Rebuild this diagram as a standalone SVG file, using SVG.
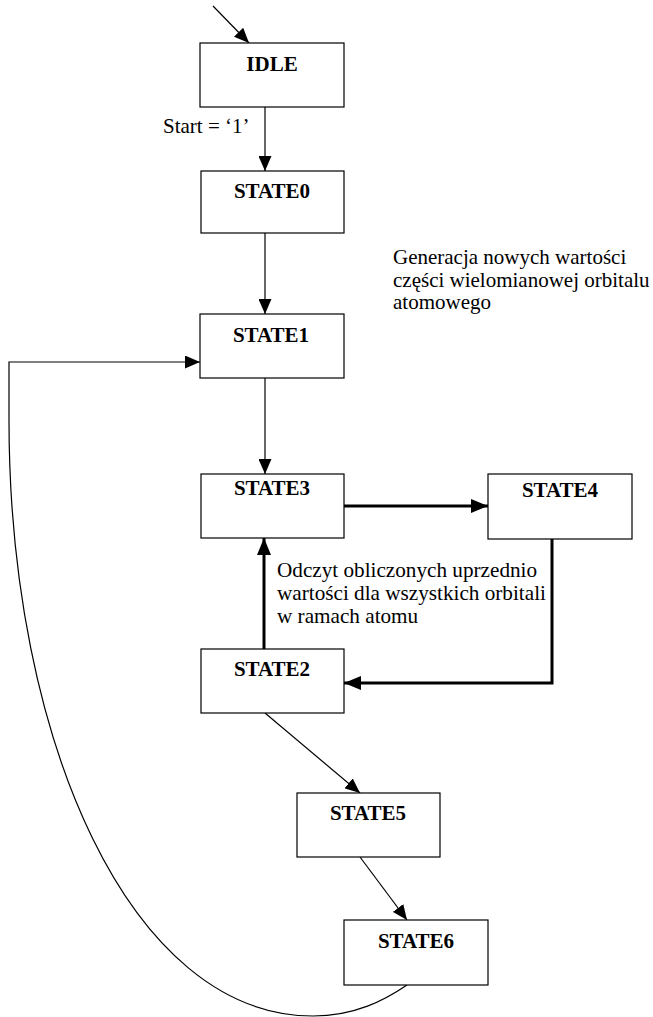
<svg xmlns="http://www.w3.org/2000/svg" width="653" height="1017" viewBox="0 0 653 1017">
<style>
.box{fill:#fff;stroke:#000;stroke-width:1.2}
.lbl{font-family:"Liberation Serif","Times New Roman",serif;font-weight:bold;font-size:21px;text-anchor:middle;fill:#000}
.txt{font-family:"Liberation Serif","Times New Roman",serif;font-size:21px;fill:#000}
.big{font-size:21.2px}
.thin{fill:none;stroke:#000;stroke-width:1.2}
.thick{fill:none;stroke:#000;stroke-width:3}
</style>
<defs>
<marker id="ah" markerUnits="userSpaceOnUse" markerWidth="15" markerHeight="13" refX="15" refY="6.5" orient="auto"><path d="M0,0 L15,6.5 L0,13 z" fill="#000"/></marker>
<marker id="ahb" markerUnits="userSpaceOnUse" markerWidth="17" markerHeight="14" refX="17" refY="7" orient="auto"><path d="M0,0 L17,7 L0,14 z" fill="#000"/></marker>
</defs>
<rect width="653" height="1017" fill="#fff"/>
<g id="connectors">
<line class="thin" x1="213" y1="6" x2="249" y2="43" marker-end="url(#ah)"/>
<line class="thin" x1="265" y1="107" x2="265" y2="171" marker-end="url(#ah)"/>
<line class="thin" x1="265" y1="233" x2="265" y2="314" marker-end="url(#ah)"/>
<line class="thin" x1="265" y1="378" x2="265" y2="474" marker-end="url(#ah)"/>
<line class="thick" x1="344" y1="506" x2="488" y2="506" marker-end="url(#ahb)"/>
<polyline class="thick" points="552,539 552,683 344,683" marker-end="url(#ahb)"/>
<line class="thick" x1="264" y1="649" x2="264" y2="538" marker-end="url(#ahb)"/>
<line class="thin" x1="265" y1="713" x2="360" y2="793" marker-end="url(#ah)"/>
<line class="thin" x1="360" y1="857" x2="407" y2="920" marker-end="url(#ah)"/>
<path class="thin" d="M407,985 C385,1000 355,1016 313,1016 C130,1016 9,740 9,420 L9,362 L200,362" marker-end="url(#ah)"/>
</g>
<g id="idle"><rect class="box" x="200" y="43" width="144" height="64"/><text class="lbl" x="272" y="71">IDLE</text></g>
<g id="state0"><rect class="box" x="201" y="171" width="143" height="62"/><text class="lbl" x="272" y="198">STATE0</text></g>
<g id="state1"><rect class="box" x="200" y="314" width="144" height="64"/><text class="lbl" x="271" y="342">STATE1</text></g>
<g id="state3"><rect class="box" x="201" y="474" width="143" height="64"/><text class="lbl" x="272" y="495">STATE3</text></g>
<g id="state4"><rect class="box" x="488" y="474" width="144" height="65"/><text class="lbl" x="560" y="497">STATE4</text></g>
<g id="state2"><rect class="box" x="201" y="649" width="143" height="64"/><text class="lbl" x="272" y="676">STATE2</text></g>
<g id="state5"><rect class="box" x="297" y="793" width="143" height="64"/><text class="lbl" x="368" y="820">STATE5</text></g>
<g id="state6"><rect class="box" x="344" y="920" width="144" height="65"/><text class="lbl" x="416" y="948">STATE6</text></g>
<g id="labels">
<text class="txt" x="163" y="133" font-size="20">Start = ‘1’</text>
<text class="txt" x="393" y="264">Generacja nowych wartości</text>
<text class="txt" x="393" y="287">części wielomianowej orbitalu</text>
<text class="txt" x="393" y="309">atomowego</text>
<text class="txt big" x="277" y="577">Odczyt obliczonych uprzednio</text>
<text class="txt big" x="277" y="600">wartości dla wszystkich orbitali</text>
<text class="txt big" x="277" y="623">w ramach atomu</text>
</g>
</svg>
